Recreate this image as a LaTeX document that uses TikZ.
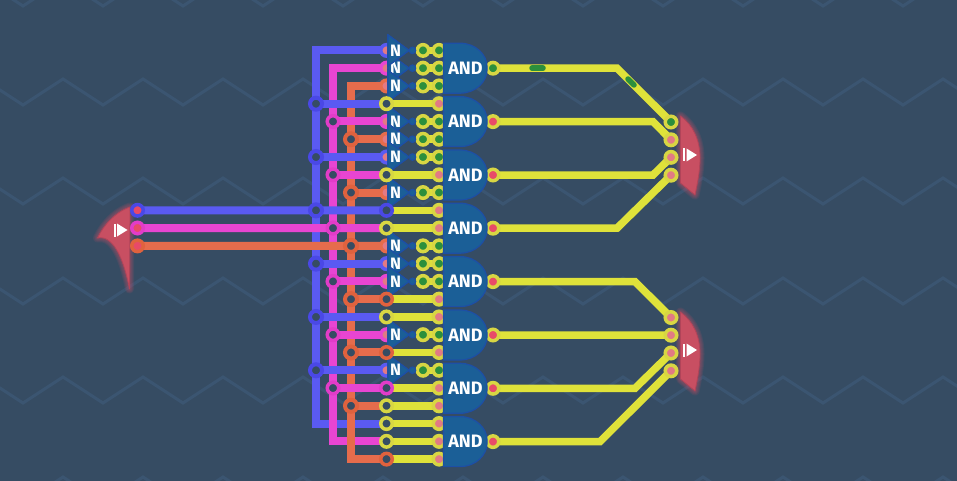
\documentclass[tikz,border=0pt]{standalone}
\usepackage{fontspec}
\setmainfont{Fira Sans}
\definecolor{bgc}{HTML}{364C63}
\definecolor{zigc}{HTML}{3B5571}
\definecolor{wb}{HTML}{5A5AF2}
\definecolor{wbd}{HTML}{4A48E6}
\definecolor{wm}{HTML}{E845D2}
\definecolor{wmd}{HTML}{E23CC8}
\definecolor{wo}{HTML}{E66C4C}
\definecolor{wod}{HTML}{E0623E}
\definecolor{ylw}{HTML}{DFE23A}
\definecolor{ylwd}{HTML}{8E9238}
\definecolor{ylr}{HTML}{D8D643}
\definecolor{grn}{HTML}{2C8F3C}
\definecolor{pnk}{HTML}{E27A84}
\definecolor{rdp}{HTML}{E84A68}
\definecolor{gateb}{HTML}{1B5F97}
\definecolor{gatee}{HTML}{1D4FA6}
\definecolor{redg}{HTML}{C84F62}
\definecolor{rede}{HTML}{B04459}
\definecolor{glowc}{HTML}{E8506A}
\tikzset{
  x=1pt,y=-1pt,
  zig/.style={draw=zigc,line width=3pt,line join=miter},
  wire/.style={line width=8pt,line join=miter},
  ywire/.style={draw=ylw,line width=7.5pt,line join=miter,
     preaction={draw=ylwd,transform canvas={yshift=-1.1pt}}},
  link/.style={draw=ylw,line width=7.5pt},
  ring/.style={circle,inner sep=0pt,minimum size=11.5pt,line width=3.5pt,draw=#1,fill=bgc},
  jring/.style={circle,inner sep=0pt,minimum size=12pt,line width=4pt,draw=#1,fill=bgc},
  dot/.style={circle,inner sep=0pt,minimum size=11.5pt,line width=3.5pt,draw=#1},
  notg/.style={fill=gateb,draw=gatee,line width=1.1pt,line join=miter},
  andg/.style={fill=gateb,draw=gatee,line width=1.2pt},
  bubble/.style={circle,inner sep=0pt,minimum size=6.5pt,fill=gateb,draw=gatee,line width=1.1pt},
  nlab/.style={text=white,font=\fontsize{16.5}{17}\selectfont\bfseries,inner sep=0pt},
  andlab/.style={text=white,font=\fontsize{18}{19}\selectfont\bfseries,inner sep=0pt},
  redgate/.style={fill=redg,draw=rede,line width=.8pt,line join=round},
  glow/.style={draw=glowc,draw opacity=.10,line width=#1,line join=round},
  icon/.style={fill=white,draw=none},
  sig/.style={draw=grn,line width=5.5pt,line cap=round},
}
\newcommand{\ry}[1]{\pgfmathsetmacro{\yy}{50.4+17.77*#1}}
\begin{document}
\begin{tikzpicture}
\useasboundingbox (0,0) rectangle (957,481);
% background
\fill[bgc] (0,0) rectangle (957,481);
\foreach \r in {-20,79,178,278,377,477}{
  \draw[zig] (-17,\r) \foreach \i in {0,...,12}{ -- ({23+80*\i},{\r+26}) -- ({63+80*\i},\r) };
}
% named places of the bus corners, junctions and row pins
\foreach \k/\c in {0/316,1/333,2/351,3/316,4/333,5/351,6/316,7/333,8/351,9/316,10/333,11/351,12/316,13/333,14/351,15/316,16/333,17/351,18/316,19/333,20/351,21/316,22/333,23/351}{
  \ry{\k}
  \coordinate (j\k) at (\c,\yy);
  \coordinate (p\k) at (386.5,\yy);
  \coordinate (a\k) at (423,\yy);
  \coordinate (b\k) at (439,\yy);
}
\coordinate (ia) at (137.5,210.3);
\coordinate (ib) at (137.5,228);
\coordinate (ic) at (137.5,245.9);
\foreach \i/\c in {1/68.2,2/121.6,3/175,4/228.2,5/281.6,6/335,7/388.3,8/441.6}{\coordinate (o\i) at (493,\c);}
\foreach \i/\c in {1/122,2/139.8,3/157.3,4/175.2,5/317.5,6/335.2,7/353,8/370.8}{\coordinate (t\i) at (671,\c);}

% red gates
\foreach \w in {9pt,7pt,5pt,3pt}{
  \draw[glow=\w] (130,207) .. controls (115,212) and (103,226) .. (97.5,238) .. controls (112,235) and (123,255) .. (129.5,289) -- cycle;
  \draw[glow=\w] (680.5,116) .. controls (693,125) and (700,140) .. (700,158) .. controls (700,172) and (697,185) .. (695,195) -- (680.5,183) -- cycle;
  \draw[glow=\w] (680.5,312) .. controls (693,321) and (700,336) .. (700,354) .. controls (700,368) and (697,381) .. (695,391) -- (680.5,379) -- cycle;
}
\draw[redgate] (130,207) .. controls (115,212) and (103,226) .. (97.5,238) .. controls (112,235) and (123,255) .. (129.5,289) -- cycle;
\draw[redgate] (680.5,116) .. controls (693,125) and (700,140) .. (700,158) .. controls (700,172) and (697,185) .. (695,195) -- (680.5,183) -- cycle;
\draw[redgate] (680.5,312) .. controls (693,321) and (700,336) .. (700,354) .. controls (700,368) and (697,381) .. (695,391) -- (680.5,379) -- cycle;
\foreach \xx/\cc in {113.5/230,683/155,683/350}{
  \fill[icon] (\xx,\cc-6.5) rectangle (\xx+2,\cc+6.5);
  \fill[icon] (\xx+3.5,\cc-6.5) -- (\xx+14,\cc) -- (\xx+3.5,\cc+6.5) -- cycle;
}

% bus wires
\draw[wire,wb] (p0) -- (j0) -- (j21) -- (p21);
\draw[wire,wm] (p1) -- (j1) -- (j22) -- (p22);
\draw[wire,wo] (p2) -- (j2) -- (j23) -- (p23);
\foreach \k in {3,6,12,15,18}{\draw[wire,wb] (j\k) -- (p\k);}
\foreach \k in {4,7,13,16,19}{\draw[wire,wm] (j\k) -- (p\k);}
\foreach \k in {5,8,14,17,20}{\draw[wire,wo] (j\k) -- (p\k);}
\draw[wire,wb] (ia) -- (p9);
\draw[wire,wm] (ib) -- (p10);
\draw[wire,wo] (ic) -- (p11);
% output wires
\draw[ywire] (o1) -- (617,68.2) -- (t1);
\draw[ywire] (o2) -- (653,121.6) -- (t2);
\draw[ywire] (o3) -- (653,175) -- (t3);
\draw[ywire] (o4) -- (617,228.2) -- (t4);
\draw[ywire] (o5) -- (635,281.6) -- (t5);
\draw[ywire] (o6) -- (t6);
\draw[ywire] (o7) -- (635,388.3) -- (t7);
\draw[ywire] (o8) -- (600,441.6) -- (t8);
\draw[sig] (532,68.2) -- (543,68.2);
\draw[sig] (628,79) -- (634,85);

% junctions
\foreach \k in {3,6,9,12,15,18}{\node[jring=wbd] (jn\k) at (j\k) {};}
\foreach \k in {4,7,10,13,16,19}{\node[ring=wmd] (jn\k) at (j\k) {};}
\foreach \k in {5,8,11,14,17,20}{\node[jring=wod] (jn\k) at (j\k) {};}
% input gate pins
\node[dot=wbd,fill=rdp] (ian) at (ia) {};
\node[dot=wmd,fill=rdp] (ibn) at (ib) {};
\node[dot=wod,fill=rdp] (icn) at (ic) {};
% output pins
\node[dot=ylr,fill=grn] (on1) at (o1) {};
\foreach \i in {2,...,8}{\node[dot=ylr,fill=rdp] (on\i) at (o\i) {};}
\node[dot=ylr,fill=grn] (tn1) at (t1) {};
\foreach \i in {2,...,8}{\node[dot=ylr,fill=pnk] (tn\i) at (t\i) {};}

% input pins of NOT gates
\foreach \k/\c in {0/wb,1/wm,2/wo,4/wm,5/wo,6/wb,8/wo,11/wo,12/wb,13/wm,16/wm,18/wb}{
  \node[dot=\c,fill=pnk] (pn\k) at (p\k) {};
}
% links behind the pins
\foreach \k in {0,1,2,4,5,6,8,11,12,13,16,18}{
  \draw[link] (a\k) -- (b\k);
  \node[dot=ylr,fill=grn] (an\k) at (a\k) {};
  \node[dot=ylr,fill=grn] (bn\k) at (b\k) {};
}
% direct rows, wire part
\foreach \k in {3,7,9,10,14,15,17,19,20,21,22,23}{
  \ry{\k}
  \coordinate (s\k) at (391,\yy);
}
% NOT gates
\foreach \k/\vy in {1/68.17,0/50.4,2/85.94,4/121.48,5/139.25,6/157.02,8/192.56,11/245.87,12/263.64,13/281.41,16/334.72,18/370.26}{
  \path[notg] (388,\vy-15.5) -- (409,\vy) -- (388,\vy+15.5) -- cycle;
  \draw[notg,fill=none] (388,\vy-15.5) -- (409,\vy) -- (388,\vy+15.5) -- cycle;
  \fill[gateb] (388,\vy-15.5) -- (409,\vy) -- (388,\vy+15.5) -- cycle;
  \draw[gatee,line width=1.1pt,line join=miter] (388,\vy-15.5) -- (409,\vy) -- (388,\vy+15.5) -- cycle;
  \node[nlab] (n\k) at (395.5,\vy) {N};
  \node[bubble] (u\k) at (412.5,\vy) {};
}
% direct rows
\foreach \k/\c in {3/ylr,7/ylr,9/wbd,10/ylr,14/wod,15/ylr,17/wod,19/wmd,20/ylr,21/ylr,22/ylr,23/wod}{
  \draw[link] (s\k) -- (b\k);
  \node[dot=ylr,fill=pnk] (bn\k) at (b\k) {};
  \node[ring=\c] (pn\k) at (p\k) {};
}
% AND gates
\foreach \i/\c in {1/68.2,2/121.6,3/175,4/228.2,5/281.6,6/335,7/388.3,8/441.6}{
  \draw[andg] (443.5,\c-25) -- (460,\c-25) .. controls (476,\c-25) and (487,\c-13) .. (487,\c-2)
     -- (487,\c+2) .. controls (487,\c+13) and (476,\c+25) .. (460,\c+25) -- (443.5,\c+25) -- cycle;
  \node[andlab] (and\i) at (465.5,\c) {AND};
}
\end{tikzpicture}
\end{document}
